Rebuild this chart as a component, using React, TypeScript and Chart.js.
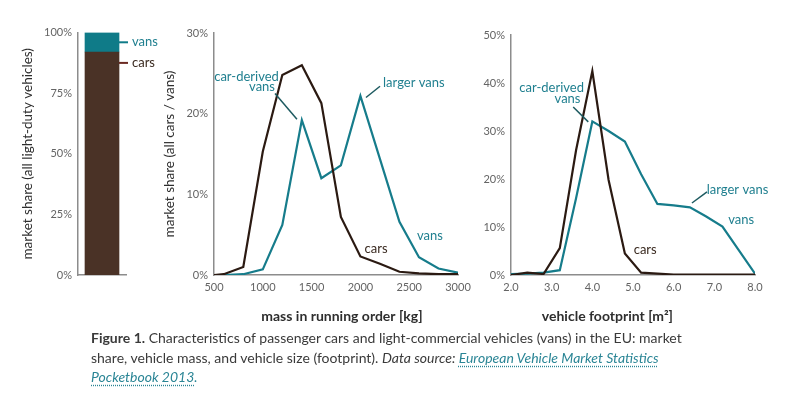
import React, { useEffect, useRef } from "react";
import { Chart, registerables } from "chart.js";

Chart.register(...registerables);

// ---------- DATA ----------
const shareCategories = [""];
const shareCars = [92];
const shareVans = [8];

const massKg = [500, 600, 800, 1000, 1200, 1400, 1600, 1800, 2000, 2200, 2400, 2600, 2800, 3000];
const massCars = [0, 0.1, 1.0, 15.3, 24.8, 26.0, 21.3, 7.2, 2.3, 1.4, 0.4, 0.2, 0.1, 0.1];
const massVans = [0, 0, 0.1, 0.7, 6.2, 19.2, 12.0, 13.6, 22.2, 14.4, 6.6, 2.2, 0.8, 0.3];

const footprintM2 = [2.0, 2.4, 2.8, 3.2, 3.6, 4.0, 4.4, 4.8, 5.2, 5.6, 6.0, 6.4, 6.8, 7.2, 7.6, 8.0];
const footprintCars = [0, 0.5, 0.2, 5.6, 26, 42.5, 19.8, 4.5, 0.5, 0.3, 0.1, 0.1, 0.1, 0.1, 0.1, 0.1];
const footprintVans = [0.2, 0.3, 0.5, 1.0, 16, 32, 30, 27.8, 21, 14.8, 14.5, 14.1, 12.2, 10.1, 5.2, 0.3];

const massTitle = "mass in running order [kg]";
const footprintTitle = "vehicle footprint [m²]";
const shareAxisTitle = "market share (all light-duty vehicles)";
const massAxisTitle = "market share (all cars / vans)";

// ---------- STYLE ----------
const FONT = "Lato, 'Open Sans', sans-serif";
const CAR_LINE = "#2b1a12";
const VAN_LINE = "#167c8b";
const CAR_BAR = "#4a3226";
const VAN_BAR = "#0f7b88";
const AXIS = "#8c8c8c";
const TICK = "#646464";
const TITLE = "#2e2e2e";
const VAN_TEXT = "#1f7f8f";
const CAR_TEXT = "#3a2a20";

type Note = { text: string; x: number; y: number; color: string; align?: CanvasTextAlign };
type Leader = { x1: number; y1: number; x2: number; y2: number; color: string };

function notesPlugin(notes: Note[], leaders: Leader[], xTitle: string, xTitleAt: number) {
  return {
    id: "notes",
    afterDraw(chart: any) {
      const { ctx, scales } = chart;
      const xs = scales.x;
      const ys = scales.y;
      ctx.save();
      leaders.forEach((l) => {
        ctx.beginPath();
        ctx.strokeStyle = l.color;
        ctx.lineWidth = 1.5;
        ctx.moveTo(xs.getPixelForValue(l.x1), ys.getPixelForValue(l.y1));
        ctx.lineTo(xs.getPixelForValue(l.x2), ys.getPixelForValue(l.y2));
        ctx.stroke();
      });
      ctx.font = `13px ${FONT}`;
      ctx.textBaseline = "middle";
      notes.forEach((n) => {
        ctx.fillStyle = n.color;
        ctx.textAlign = n.align || "center";
        ctx.fillText(n.text, xs.getPixelForValue(n.x), ys.getPixelForValue(n.y));
      });
      ctx.font = `bold 14px ${FONT}`;
      ctx.fillStyle = TITLE;
      ctx.textAlign = "center";
      ctx.fillText(xTitle, xs.getPixelForValue(xTitleAt), chart.chartArea.bottom + 41);
      ctx.restore();
    },
  };
}

const barNotesPlugin = {
  id: "barNotes",
  afterDraw(chart: any) {
    const { ctx, scales } = chart;
    const bar = chart.getDatasetMeta(0).data[0] as any;
    const right = bar.x + bar.width / 2;
    const items = [
      { text: "vans", y: shareCars[0] + shareVans[0] / 2, color: VAN_BAR, text2: VAN_TEXT },
      { text: "cars", y: shareCars[0] - 4.5, color: "#6b2a22", text2: CAR_TEXT },
    ];
    ctx.save();
    ctx.font = `13px ${FONT}`;
    ctx.textBaseline = "middle";
    ctx.textAlign = "left";
    items.forEach((it) => {
      const py = scales.y.getPixelForValue(it.y);
      ctx.beginPath();
      ctx.strokeStyle = it.color;
      ctx.lineWidth = 2;
      ctx.moveTo(right, py);
      ctx.lineTo(right + 9, py);
      ctx.stroke();
      ctx.fillStyle = it.text2;
      ctx.fillText(it.text, right + 13, py);
    });
    ctx.restore();
  },
};

const tickFont = { family: FONT, size: 11 };
const titleFont = { family: FONT, size: 13.5 };

function ShareChart() {
  const ref = useRef<HTMLCanvasElement>(null);
  useEffect(() => {
    const chart = new Chart(ref.current!, {
      type: "bar",
      data: {
        labels: shareCategories,
        datasets: [
          { label: "cars", data: shareCars, backgroundColor: CAR_BAR, barThickness: 34, borderWidth: 0 },
          { label: "vans", data: shareVans, backgroundColor: VAN_BAR, barThickness: 34, borderWidth: 0 },
        ],
      },
      options: {
        responsive: false,
        animation: false,
        layout: { padding: { top: 11, right: 39, bottom: 0, left: 0 } },
        plugins: { legend: { display: false }, tooltip: { enabled: false } },
        scales: {
          x: {
            stacked: true,
            ticks: { display: false },
            grid: { display: false, drawTicks: false },
            border: { display: true, color: AXIS, width: 1.5 },
            afterFit(s: any) { s.height = 15; },
          },
          y: {
            stacked: true,
            min: 0,
            max: 100,
            ticks: { stepSize: 25, color: TICK, font: tickFont, padding: 6, callback: (v: any) => v + "%" },
            grid: { display: false, drawTicks: false },
            border: { display: true, color: AXIS, width: 1.5 },
            title: { display: true, text: shareAxisTitle, color: TITLE, font: titleFont, padding: { top: 20, bottom: 0 } },
            afterFit(s: any) { s.width = 78; },
          },
        },
      },
      plugins: [barNotesPlugin],
    } as any);
    return () => chart.destroy();
  }, []);
  return <canvas ref={ref} width={165} height={270} style={{ display: "block" }} />;
}

function MassChart() {
  const ref = useRef<HTMLCanvasElement>(null);
  useEffect(() => {
    const notes: Note[] = [
      { text: "car-derived", x: 833, y: 24.6, color: VAN_TEXT },
      { text: "vans", x: 992, y: 23.3, color: VAN_TEXT },
      { text: "larger vans", x: 2232, y: 23.8, color: VAN_TEXT, align: "left" },
      { text: "cars", x: 2160, y: 3.3, color: CAR_TEXT },
      { text: "vans", x: 2713, y: 4.8, color: VAN_TEXT },
    ];
    const leaders: Leader[] = [
      { x1: 1125, y1: 22.5, x2: 1350, y2: 19.3, color: "#1d5a60" },
      { x1: 2201, y1: 23.4, x2: 2057, y2: 22.0, color: "#1d5a60" },
    ];
    const chart = new Chart(ref.current!, {
      type: "line",
      data: {
        datasets: [
          { label: "cars", data: massKg.map((x, i) => ({ x, y: massCars[i] })), borderColor: CAR_LINE, borderWidth: 2.2, pointRadius: 0, tension: 0 },
          { label: "vans", data: massKg.map((x, i) => ({ x, y: massVans[i] })), borderColor: VAN_LINE, borderWidth: 2.2, pointRadius: 0, tension: 0 },
        ],
      },
      options: {
        responsive: false,
        animation: false,
        layout: { padding: { top: 13, right: 22, bottom: 0, left: 0 } },
        plugins: { legend: { display: false }, tooltip: { enabled: false } },
        scales: {
          x: {
            type: "linear",
            min: 500,
            max: 3000,
            ticks: { stepSize: 500, color: TICK, font: tickFont, padding: 6, maxRotation: 0, callback: (v: any) => String(v) },
            grid: { display: false, drawTicks: false },
            border: { display: true, color: AXIS, width: 1.5 },
            afterFit(s: any) { s.height = 55; },
          },
          y: {
            min: 0,
            max: 30,
            ticks: { stepSize: 10, color: TICK, font: tickFont, padding: 6, callback: (v: any) => v + "%" },
            grid: { display: false, drawTicks: false },
            border: { display: true, color: AXIS, width: 1.5 },
            title: { display: true, text: massAxisTitle, color: TITLE, font: titleFont, padding: { top: 12, bottom: 0 } },
            afterFit(s: any) { s.width = 64; },
          },
        },
      },
      plugins: [notesPlugin(notes, leaders, massTitle, 1811)],
    } as any);
    return () => chart.destroy();
  }, []);
  return <canvas ref={ref} width={330} height={310} style={{ display: "block" }} />;
}

function FootprintChart() {
  const ref = useRef<HTMLCanvasElement>(null);
  useEffect(() => {
    const notes: Note[] = [
      { text: "car-derived", x: 3.0, y: 39, color: VAN_TEXT },
      { text: "vans", x: 3.39, y: 36.7, color: VAN_TEXT },
      { text: "larger vans", x: 7.57, y: 17.7, color: VAN_TEXT },
      { text: "vans", x: 7.66, y: 11.5, color: VAN_TEXT },
      { text: "cars", x: 5.3, y: 5.2, color: CAR_TEXT },
    ];
    const leaders: Leader[] = [
      { x1: 3.53, y1: 35, x2: 3.9, y2: 31.9, color: "#1d5a60" },
      { x1: 6.82, y1: 17.3, x2: 6.45, y2: 15, color: "#1d5a60" },
    ];
    const chart = new Chart(ref.current!, {
      type: "line",
      data: {
        datasets: [
          { label: "cars", data: footprintM2.map((x, i) => ({ x, y: footprintCars[i] })), borderColor: CAR_LINE, borderWidth: 2.2, pointRadius: 0, tension: 0 },
          { label: "vans", data: footprintM2.map((x, i) => ({ x, y: footprintVans[i] })), borderColor: VAN_LINE, borderWidth: 2.2, pointRadius: 0, tension: 0 },
        ],
      },
      options: {
        responsive: false,
        animation: false,
        layout: { padding: { top: 15, right: 32, bottom: 0, left: 0 } },
        plugins: { legend: { display: false }, tooltip: { enabled: false } },
        scales: {
          x: {
            type: "linear",
            min: 2,
            max: 8,
            ticks: { stepSize: 1, color: TICK, font: tickFont, padding: 6, maxRotation: 0, callback: (v: any) => Number(v).toFixed(1) },
            grid: { display: false, drawTicks: false },
            border: { display: true, color: AXIS, width: 1.5 },
            afterFit(s: any) { s.height = 55; },
          },
          y: {
            min: 0,
            max: 50,
            ticks: { stepSize: 10, color: TICK, font: tickFont, padding: 6, callback: (v: any) => v + "%" },
            grid: { display: false, drawTicks: false },
            border: { display: true, color: AXIS, width: 1.5 },
            afterFit(s: any) { s.width = 41; },
          },
        },
      },
      plugins: [notesPlugin(notes, leaders, footprintTitle, 4.37)],
    } as any);
    return () => chart.destroy();
  }, []);
  return <canvas ref={ref} width={317} height={310} style={{ display: "block" }} />;
}

export default function App() {
  const linkStyle: React.CSSProperties = {
    color: "#2a8595",
    fontStyle: "italic",
    textDecorationLine: "underline",
    textDecorationStyle: "dotted",
    textDecorationColor: "#2a8595",
    textUnderlineOffset: "3px",
  };
  return (
    <div style={{ position: "absolute", left: 0, top: 0, width: 787, height: 394, background: "#fff", overflow: "hidden" }}>
      <div style={{ position: "absolute", left: 0, top: 20 }}><ShareChart /></div>
      <div style={{ position: "absolute", left: 150, top: 20 }}><MassChart /></div>
      <div style={{ position: "absolute", left: 470, top: 20 }}><FootprintChart /></div>
      <div
        style={{
          position: "absolute",
          left: 91,
          top: 328,
          fontFamily: FONT,
          fontSize: 14,
          lineHeight: "19.5px",
          color: "#3a3a3a",
          whiteSpace: "nowrap",
        }}
      >
        <b>Figure 1.</b> Characteristics of passenger cars and light-commercial vehicles (vans) in the EU: market
        <br />
        share, vehicle mass, and vehicle size (footprint). <i>Data source: </i>
        <span style={linkStyle}>European Vehicle Market Statistics</span>
        <br />
        <span style={linkStyle}>Pocketbook 2013</span>
        <span style={{ color: "#2a8595", fontStyle: "italic" }}>.</span>
      </div>
    </div>
  );
}
